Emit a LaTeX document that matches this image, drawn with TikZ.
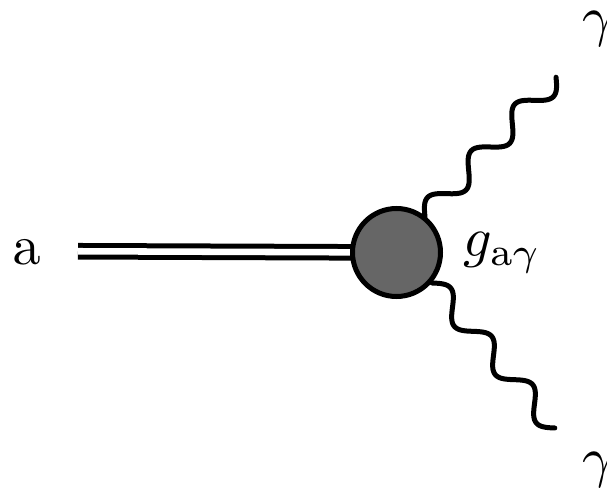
\documentclass[tikz,border=0pt]{standalone}
\begin{document}
\begin{tikzpicture}[x=0.75pt,y=-0.75pt,
  photon/.style={line width=3.75pt,line cap=round,line join=round},
  axion/.style={line width=3.75pt,double=white,double distance=4.9pt},
  blob/.style={circle,draw=black,line width=3.75pt,fill=black!60,minimum size=66pt,inner sep=0pt},
  lbl/.style={inner sep=0pt,anchor=base west}]
\useasboundingbox (0,0) rectangle (607,491);
\coordinate (aend) at (78,251.25);
\coordinate (c) at (396.5,252.5);
\draw[axion] (aend) -- (c);
\draw[photon] plot[domain=0:1,samples=240,smooth]
  ({425+131*\x-0.730*11.5*sin(1080*\x)},{217-140*\x-0.683*11.5*sin(1080*\x)});
\draw[photon] plot[domain=0:1,samples=240,smooth]
  ({432+123*\x+0.763*11*sin(1080*\x)},{283+145*\x-0.647*11*sin(1080*\x)});
\node[blob] (v) at (c) {};
\node[lbl] (la) at (12,265) {\scalebox{4.2}{$\mathrm{a}$}};
\node[lbl] (lg) at (463,257) {\scalebox{4.2}{$g_{\mathrm{a}\gamma}$}};
\node[lbl] (g1) at (582,36) {\scalebox{4.2}{$\gamma$}};
\node[lbl] (g2) at (582,476) {\scalebox{4.2}{$\gamma$}};
\end{tikzpicture}
\end{document}
